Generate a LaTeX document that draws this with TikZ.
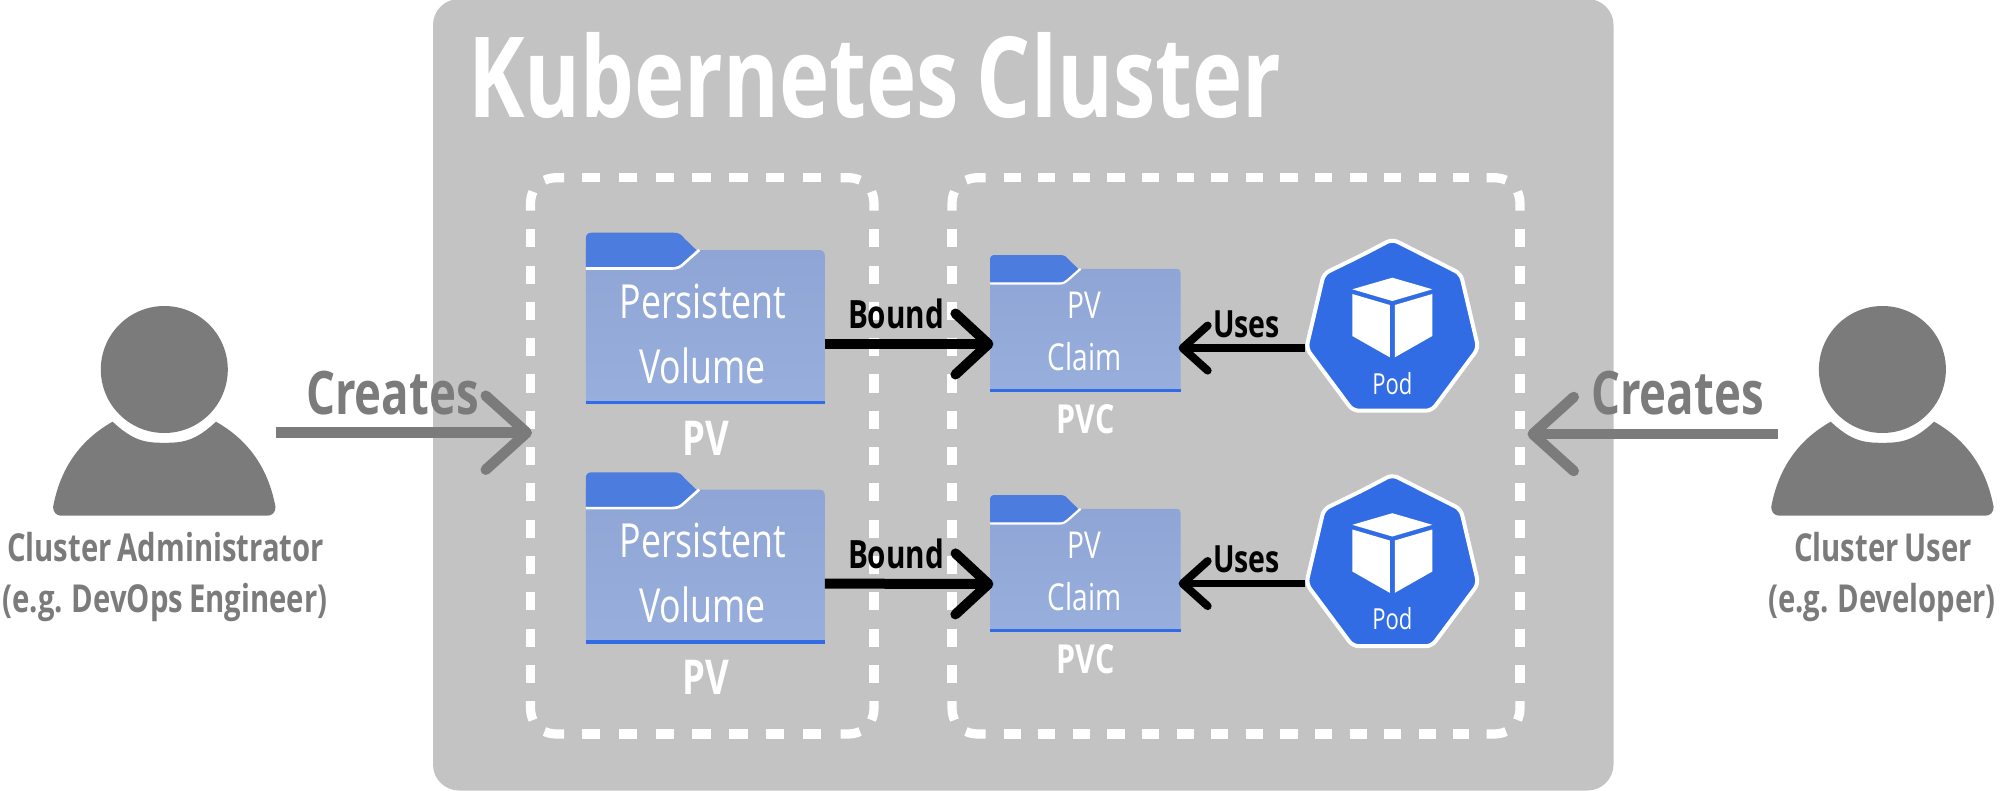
\documentclass[tikz,border=0pt]{standalone}
\usepackage{fontspec}
\setmainfont[FakeStretch=0.76,WordSpace=0.8]{Open Sans}
\usetikzlibrary{arrows.meta,calc}
\definecolor{clusterbg}{HTML}{C3C3C3}
\definecolor{kblue}{HTML}{326CE5}
\definecolor{tabblue}{HTML}{4D7CDF}
\definecolor{bodytop}{HTML}{8FA5D5}
\definecolor{bodybot}{HTML}{98AEDC}
\definecolor{pgray}{HTML}{7B7B7B}
\newcommand{\fsz}[1]{\fontsize{#1}{#1}\selectfont}
\newcommand{\dashcorner}[3]{%
  \begin{scope}[shift={(#1,#2)},xscale={#3}]
  \draw[dashline,line cap=butt] (0,33) -- (0,27) .. controls (0,22) and (0.7,18) .. (2.5,14);
  \draw[dashline,line cap=butt] (33.5,0) -- (27,0) .. controls (22,0) and (18,0.7) .. (14,2.5);
  \end{scope}}
\newcommand{\dashcornerb}[3]{%
  \begin{scope}[shift={(#1,#2)},xscale={#3},yscale=-1]
  \draw[dashline,line cap=butt] (0,33) -- (0,27) .. controls (0,22) and (0.7,18) .. (2.5,14);
  \draw[dashline,line cap=butt] (33.5,0) -- (27,0) .. controls (22,0) and (18,0.7) .. (14,2.5);
  \end{scope}}
% x1 y1 x2 y2 half-period-of-horizontal-dashes
\newcommand{\grpbox}[5]{%
  \dashcorner{#1}{#2}{1}\dashcorner{#3}{#2}{-1}%
  \dashcornerb{#1}{#4}{1}\dashcornerb{#3}{#4}{-1}%
  \draw[dashline,dash pattern=on #5pt off #5pt] ({#1+51.5},#2) -- ({#3-51.5},#2);
  \draw[dashline,dash pattern=on #5pt off #5pt] ({#1+51.5},#4) -- ({#3-51.5},#4);
  \draw[dashline,dash pattern=on 18.15pt off 18.15pt] (#1,{#2+51.5}) -- (#1,{#4-51.5});
  \draw[dashline,dash pattern=on 18.15pt off 18.15pt] (#3,{#2+51.5}) -- (#3,{#4-51.5});}
% x y scale white-line-width
\newcommand{\folderpic}[4]{%
  \begin{scope}[shift={(#1,#2)},scale=#3]
  \path[top color=bodytop,bottom color=bodybot] (0,171.3) -- (0,17.3) -- (233,17.3) .. controls (237,17.3) and (239,19.3) .. (239,23) -- (239,171.3) -- cycle;
  \fill[kblue] (0,168) rectangle (239,171.3);
  \fill[tabblue] (0,34.5) -- (0,6) .. controls (0,2) and (2,0) .. (6,0) -- (88,0) .. controls (93,0) and (96,2) .. (98.5,5.7) -- (110.5,17.3) -- (96,31) .. controls (93,33.5) and (90,34.5) .. (86,34.5) -- cycle;
  \draw[white,line width=#4pt] (0,35.8) -- (86,35.8) .. controls (92,35.8) and (95,34) .. (98,31) -- (113.5,17.3);
  \end{scope}}
\newcommand{\podpic}[2]{%
  \begin{scope}[shift={(#1,#2)}]
  \draw[white,line width=4pt,fill=kblue,rounded corners=6pt] (-30,17.2) -- (0,1.5) -- (68.5,36) -- (86,110.5) -- (39.5,173) -- (-39.5,173) -- (-86,110.5) -- (-68.5,36) -- cycle;
  \fill[white] (0,40) -- (40,51.6) -- (0,63.3) -- (-40,51.6) -- cycle;
  \fill[white] (-40,56.3) -- (-2.5,67.3) -- (-2.5,119.6) -- (-40,98.3) -- cycle;
  \fill[white] (40,56.3) -- (2.5,67.3) -- (2.5,119.6) -- (40,98.3) -- cycle;
  \end{scope}}
\newcommand{\personpic}[1]{%
  \begin{scope}[shift={(#1,0)}]
  \fill[pgray] (0,369.5) circle[radius=63.5];
  \fill[pgray] (-103,515.7) .. controls (-108,515.7) and (-111.2,512) .. (-111.2,507) .. controls (-104,468) and (-84,440) .. (-51.7,421.7) .. controls (-31,441) and (-19,442.8) .. (0,442.8) .. controls (19,442.8) and (31,441) .. (51.7,421.7) .. controls (84,440) and (104,468) .. (111.2,507) .. controls (111.2,512) and (108,515.7) .. (103,515.7) -- cycle;
  \end{scope}}
\tikzset{
  x=1pt,y=-1pt,
  dashline/.style={white,line width=9.2pt},
  lbl/.style={inner sep=0pt,anchor=base,align=center},
  ghost/.style={inner sep=0pt,outer sep=0pt,draw=none},
  boundarrow/.style={black,line width=10pt,-{Straight Barb[length=33pt,width=61pt,line width=10pt,round]}},
  usesarrow/.style={black,line width=7.5pt,-{Straight Barb[length=25pt,width=45pt,line width=8pt,round]}},
  createarrow/.style={pgray,line width=10.5pt,-{Straight Barb[length=41pt,width=74pt,line width=10.5pt,round]}},
}
\begin{document}
\begin{tikzpicture}
\useasboundingbox (0,0) rectangle (2000,790);
\fill[clusterbg,rounded corners=26pt] (433,-1) rectangle (1613.5,790.5);
\node[lbl,white,font=\fsz{112}\bfseries] (title) at (874.8,117.5) {Kubernetes Cluster};
% dashed groups
\grpbox{530.5}{177.7}{874}{734}{18.4}
\grpbox{952}{177.7}{1520}{734}{17.3}
\node[ghost,minimum width=343.5pt,minimum height=556.3pt] (pvbox) at (702.25,455.85) {};
\node[ghost,minimum width=568pt,minimum height=556.3pt] (pvcbox) at (1236,455.85) {};
% folders
\folderpic{585.8}{232.7}{1}{2.6}
\folderpic{585.8}{472.3}{1}{2.6}
\folderpic{990}{255}{0.798}{2.2}
\folderpic{990}{495}{0.798}{2.2}
\node[ghost,minimum width=239pt,minimum height=154pt] (pv1) at (705.3,327) {};
\node[ghost,minimum width=239pt,minimum height=154pt] (pv2) at (705.3,566.6) {};
\node[ghost,minimum width=190.7pt,minimum height=123pt] (pvc1) at (1085.3,330.2) {};
\node[ghost,minimum width=190.7pt,minimum height=123pt] (pvc2) at (1085.3,570.2) {};
% folder texts
\node[lbl,white,font=\fsz{47}] (t1a) at (703,318) {Persistent};
\node[lbl,white,font=\fsz{47}] (t1b) at (702.6,383) {Volume};
\node[lbl,white,font=\fsz{48}\bfseries] (t1c) at (706,455) {PV};
\node[lbl,white,font=\fsz{47}] (t2a) at (703,557.6) {Persistent};
\node[lbl,white,font=\fsz{47}] (t2b) at (702.6,622.6) {Volume};
\node[lbl,white,font=\fsz{48}\bfseries] (t2c) at (706,694.6) {PV};
\node[lbl,white,font=\fsz{37}] (t3a) at (1084.6,318) {PV};
\node[lbl,white,font=\fsz{37}] (t3b) at (1084.6,370) {Claim};
\node[lbl,white,font=\fsz{40}\bfseries] (t3c) at (1085.5,433) {PVC};
\node[lbl,white,font=\fsz{37}] (t4a) at (1084.6,558) {PV};
\node[lbl,white,font=\fsz{37}] (t4b) at (1084.6,610) {Claim};
\node[lbl,white,font=\fsz{40}\bfseries] (t4c) at (1085.5,673) {PVC};
% pods
\podpic{1392.3}{237.7}
\podpic{1392.3}{473.2}
\node[ghost,minimum width=176.6pt,minimum height=175.3pt] (pod1) at (1392.3,325.35) {};
\node[ghost,minimum width=176.6pt,minimum height=175.3pt] (pod2) at (1392.3,560.85) {};
\node[lbl,white,font=\fsz{29}] (p1) at (1392.3,394) {Pod};
\node[lbl,white,font=\fsz{29}] (p2) at (1392.3,629.5) {Pod};
% persons
\personpic{164.3}
\personpic{1882.4}
\node[ghost,minimum width=222.4pt,minimum height=209.7pt] (admin) at (164.3,410.85) {};
\node[ghost,minimum width=222.4pt,minimum height=209.7pt] (user) at (1882.4,410.85) {};
\node[lbl,pgray,font=\fsz{38.5}\bfseries] (a1) at (165.5,561.7) {Cluster Administrator};
\node[lbl,pgray,font=\fsz{38.5}\bfseries] (a2) at (165,612.5) {(e.g. DevOps Engineer)};
\node[lbl,pgray,font=\fsz{38.5}\bfseries] (u1) at (1883,561.7) {Cluster User};
\node[lbl,pgray,font=\fsz{38.5}\bfseries] (u2) at (1882,612.5) {(e.g. Developer)};
% connectors
\draw[boundarrow] ([yshift=-17pt]pv1.east) -- ([xshift=3.5pt,yshift=-13.8pt]pvc1.west);
\draw[boundarrow] ([yshift=-17pt]pv2.east) -- ([xshift=3.5pt,yshift=-13.8pt]pvc2.west);
\draw[usesarrow] ([xshift=1pt,yshift=-22.7pt]pod1.west) -- ([xshift=-2pt,yshift=-22.7pt]pod1.west -| pvc1.east);
\draw[usesarrow] ([xshift=1pt,yshift=-22.7pt]pod2.west) -- ([xshift=-2pt,yshift=-22.7pt]pod2.west -| pvc2.east);
\draw[createarrow] ([yshift=-21.85pt]admin.east) -- ([xshift=1.5pt,yshift=23.15pt]pvbox.west);
\draw[createarrow] ([xshift=6.5pt,yshift=-23.15pt]user.west) -- ([xshift=7.5pt,yshift=21.85pt]pvcbox.east);
% connector labels
\node[lbl,black,font=\fsz{39}\bfseries] (b1) at (896,328.7) {Bound};
\node[lbl,black,font=\fsz{39}\bfseries] (b2) at (896,568.7) {Bound};
\node[lbl,black,font=\fsz{37.5}\bfseries] (us1) at (1246.5,337) {Uses};
\node[lbl,black,font=\fsz{37.5}\bfseries] (us2) at (1246.5,572.5) {Uses};
\node[lbl,pgray,font=\fsz{60}\bfseries] (c1) at (392.5,414.5) {Creates};
\node[lbl,pgray,font=\fsz{60}\bfseries] (c2) at (1677.5,414.5) {Creates};
\end{tikzpicture}
\end{document}
